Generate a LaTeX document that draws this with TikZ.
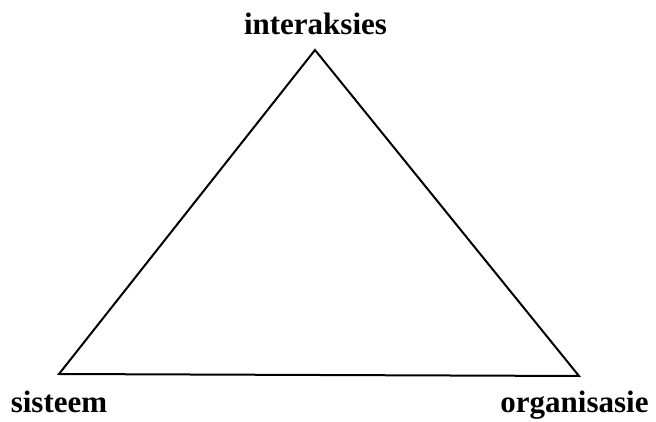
\documentclass[tikz,border=0pt]{standalone}
\usepackage{fontspec}
\setmainfont{Liberation Serif}
\usepackage{tikz}
\tikzset{
    corner/.style={inner sep=0pt, outer sep=0pt},
    cornerlabel/.style={anchor=base, inner sep=0pt, font=\fontsize{31}{31}\selectfont\bfseries},
    side/.style={line width=2pt, line join=miter}
}

\begin{document}
\begin{tikzpicture}[x=1pt, y=1pt]
    \useasboundingbox (0,0) rectangle (656,422);

    % corners of the triangle
    \coordinate (top) at (315,372);
    \coordinate (left) at (59,48);
    \coordinate (right) at (579,46);

    % labels
    \node[cornerlabel] (interaksies) at (315.5,387) {interaksies};
    \node[cornerlabel] (sisteem) at (59,9) {sisteem};
    \node[cornerlabel] (organisasie) at (574.5,9) {organisasie};

    % triangle
    \draw[side] (left) -- (top) -- (right) -- cycle;
\end{tikzpicture}
\end{document}
